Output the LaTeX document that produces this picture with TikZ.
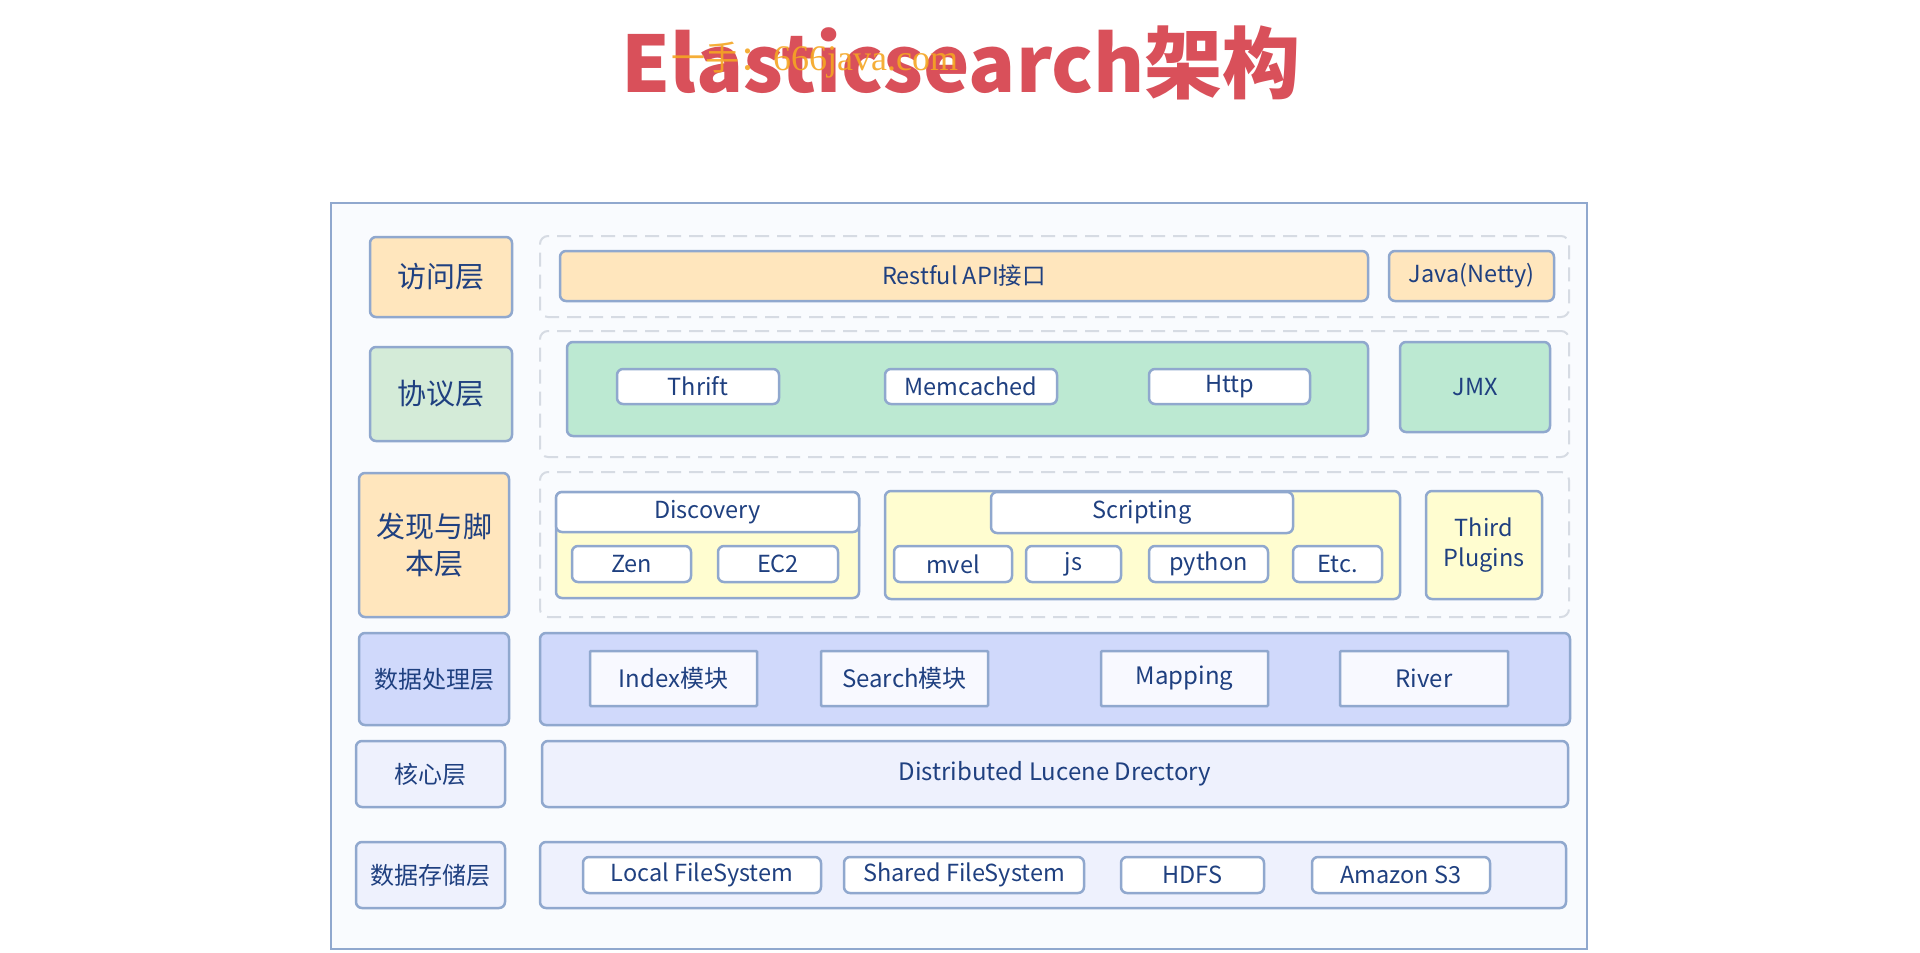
\documentclass[tikz,border=0pt]{standalone}
\usepackage{fontspec}
\setmainfont{Noto Sans CJK SC}
\newfontfamily\wmfont{Liberation Serif}
\definecolor{txt}{HTML}{1F4080}
\definecolor{bord}{HTML}{90A8CE}
\definecolor{framefill}{HTML}{F9FBFE}
\definecolor{orangef}{HTML}{FFE6BD}
\definecolor{greenl}{HTML}{D4EBD8}
\definecolor{greenf}{HTML}{BCE9D2}
\definecolor{yellowf}{HTML}{FFFDD0}
\definecolor{lavf}{HTML}{D0D9FB}
\definecolor{palef}{HTML}{EEF1FD}
\definecolor{modf}{HTML}{F8F9FF}
\definecolor{dashc}{HTML}{D6DBE3}
\definecolor{titlec}{HTML}{D9505A}
\definecolor{wmc}{HTML}{F5A623}
\newcommand\bx[7]{%
 \pgfmathsetmacro\bxw{#5-#3}\pgfmathsetmacro\bxh{#6-#4}%
 \pgfmathsetmacro\bxx{(#3+#5)/2}\pgfmathsetmacro\bxy{(#4+#6)/2}%
 \node[#2, minimum width=\bxw pt, minimum height=\bxh pt] (#1) at (\bxx,\bxy) {#7};}
\tikzset{
 box/.style={draw=bord, line width=2.5pt, rounded corners=6pt, inner sep=0pt, outer sep=0pt,
   text=txt, align=center, font=\fontsize{23.5}{30}\selectfont},
 lbl/.style={box, font=\fontsize{29}{37}\selectfont},
 lbls/.style={box, font=\fontsize{24}{30}\selectfont},
 wbox/.style={box, fill=white},
 sqbox/.style={box, fill=modf, rounded corners=1pt, font=\fontsize{24}{30}\selectfont},
 dashbox/.style={draw=dashc, line width=2pt, dash pattern=on 14pt off 8pt, rounded corners=8pt,
   fill=framefill, inner sep=0pt, outer sep=0pt},
 outer/.style={draw=bord, line width=2.5pt, fill=framefill, inner sep=0pt, outer sep=0pt},
}
\begin{document}
\begin{tikzpicture}[x=1pt,y=-1pt]
\useasboundingbox[fill=white] (0,0) rectangle (1920,953);
% title
\node[font=\fontsize{78}{90}\selectfont\bfseries, text=titlec, anchor=base, inner sep=0pt] (title) at (961,92) {Elasticsearch架构};
\node[anchor=base west, text=wmc, inner sep=0pt, opacity=0.9] (wm) at (671,70)
  {{\fontsize{34}{40}\selectfont 一手：}{\wmfont\fontsize{36}{40}\selectfont 666java.com}};
% frame
\bx{frame}{outer}{331}{203}{1587}{949}{}
% row 1
\bx{d1}{dashbox}{540}{236}{1569}{317}{}
\bx{l1}{lbl, fill=orangef}{370}{237}{512}{317}{访问层}
\bx{rest}{box, fill=orangef}{560}{251}{1368}{301}{Restful API接口}
\bx{java}{box, fill=orangef}{1389}{251}{1554}{301}{Java(Netty)}
% row 2
\bx{d2}{dashbox}{540}{331}{1569}{457}{}
\bx{l2}{lbl, fill=greenl}{370}{347}{512}{441}{协议层}
\bx{proto}{box, fill=greenf}{567}{342}{1368}{436}{}
\bx{thrift}{wbox}{617}{369}{779}{404}{Thrift}
\bx{memc}{wbox}{885}{369}{1057}{404}{Memcached}
\bx{http}{wbox}{1149}{369}{1310}{404}{Http}
\bx{jmx}{box, fill=greenf}{1400}{342}{1550}{432}{JMX}
% row 3
\bx{d3}{dashbox}{540}{472}{1569}{617}{}
\bx{l3}{lbl, fill=orangef}{359}{473}{509}{617}{发现与脚\\本层}
\bx{disc}{box, fill=yellowf}{556}{492}{859}{598}{}
\bx{disch}{wbox}{556}{492}{859}{532}{Discovery}
\bx{zen}{wbox}{572}{546}{691}{582}{Zen}
\bx{ec2}{wbox}{718}{546}{838}{582}{EC2}
\bx{scr}{box, fill=yellowf}{885}{491}{1400}{599}{}
\bx{scrh}{wbox}{991}{492}{1293}{533}{Scripting}
\bx{mvel}{wbox}{894}{546}{1012}{582}{mvel}
\bx{js}{wbox}{1026}{546}{1121}{582}{js}
\bx{py}{wbox}{1149}{546}{1268}{582}{python}
\bx{etc}{wbox}{1293}{546}{1382}{582}{Etc.}
\bx{third}{box, fill=yellowf}{1426}{491}{1542}{599}{Third\\Plugins}
% row 4
\bx{l4}{lbls, fill=lavf}{359}{633}{509}{725}{数据处理层}
\bx{proc}{box, fill=lavf}{540}{633}{1570}{725}{}
\bx{index}{sqbox}{590}{651}{757}{706}{Index模块}
\bx{search}{sqbox}{821}{651}{988}{706}{Search模块}
\bx{mapping}{sqbox}{1101}{651}{1268}{706}{Mapping}
\bx{river}{sqbox}{1340}{651}{1508}{706}{River}
% row 5
\bx{l5}{lbls, fill=palef}{356}{741}{505}{807}{核心层}
\bx{core}{box, fill=palef, font=\fontsize{24}{30}\selectfont}{542}{741}{1568}{807}{Distributed Lucene Drectory}
% row 6
\bx{l6}{lbls, fill=palef}{356}{842}{505}{908}{数据存储层}
\bx{store}{box, fill=palef}{540}{842}{1566}{908}{}
\bx{local}{wbox}{583}{857}{821}{893}{Local FileSystem}
\bx{shared}{wbox}{844}{857}{1084}{893}{Shared FileSystem}
\bx{hdfs}{wbox}{1121}{857}{1264}{893}{HDFS}
\bx{s3}{wbox}{1312}{857}{1490}{893}{Amazon S3}
\end{tikzpicture}
\end{document}
